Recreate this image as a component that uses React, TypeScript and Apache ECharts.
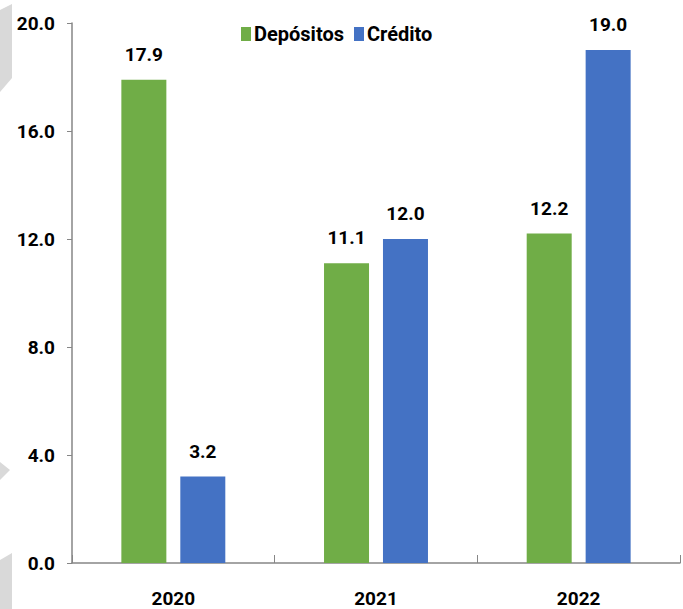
import React, { useEffect, useRef } from "react";
import * as echarts from "echarts";

const categories = ["2020", "2021", "2022"];
const depositos = [17.9, 11.1, 12.2];
const credito = [3.2, 12.0, 19.0];
const yTicks = [0, 4, 8, 12, 16, 20];

const FONT = "Roboto, 'DejaVu Sans Condensed', sans-serif";

export default function App() {
  const ref = useRef<HTMLDivElement>(null);
  useEffect(() => {
    if (!ref.current) return;
    const chart = echarts.init(ref.current, undefined, { renderer: "svg" });
    const labelStyle = {
      show: true,
      position: "top" as const,
      distance: 16,
      fontFamily: FONT,
      fontWeight: "bold" as const,
      fontSize: 19,
      color: "#000",
      formatter: (p: any) => Number(p.value).toFixed(1),
    };
    chart.setOption({
      animation: false,
      backgroundColor: "#fff",
      graphic: [
        { type: "polygon", shape: { points: [[0, 10], [12, 4], [12, 78], [0, 92]] }, style: { fill: "#d9d9d9" } },
        { type: "polygon", shape: { points: [[0, 462], [10, 470], [0, 480]] }, style: { fill: "#d9d9d9" } },
        { type: "polygon", shape: { points: [[0, 560], [12, 553], [12, 609], [0, 609]] }, style: { fill: "#d9d9d9" } },
      ],
      legend: {
        top: 19,
        left: 236,
        itemWidth: 10,
        itemHeight: 14,
        itemGap: 10,
        icon: "rect",
        textStyle: { fontFamily: FONT, fontWeight: "bold", fontSize: 20, color: "#000", padding: [0, 0, 0, -2] },
        data: ["Depósitos", "Crédito"],
      },
      grid: { left: 72, right: 3, top: 23, bottom: 46, containLabel: false },
      xAxis: {
        type: "category",
        data: categories,
        axisLine: { lineStyle: { color: "#868686", width: 1.5 } },
        axisTick: { show: true, inside: true, length: 8, lineStyle: { color: "#868686" } },
        axisLabel: { margin: 25, lineHeight: 20, fontFamily: FONT, fontWeight: "bold", fontSize: 19, color: "#000" },
      },
      yAxis: {
        type: "value",
        min: yTicks[0],
        max: yTicks[yTicks.length - 1],
        interval: 4,
        splitLine: { show: false },
        axisLine: { show: true, lineStyle: { color: "#868686", width: 1.5 } },
        axisTick: { show: true, length: 5, lineStyle: { color: "#868686" } },
        axisLabel: {
          margin: 17,
          fontFamily: FONT,
          fontWeight: "bold",
          fontSize: 19,
          color: "#000",
          formatter: (v: number) => v.toFixed(1),
        },
      },
      series: [
        {
          name: "Depósitos",
          type: "bar",
          data: depositos,
          barWidth: 45,
          barGap: "31%",
          itemStyle: { color: "#70ad47" },
          label: labelStyle,
        },
        {
          name: "Crédito",
          type: "bar",
          data: credito,
          barWidth: 45,
          itemStyle: { color: "#4472c4" },
          label: labelStyle,
        },
      ],
    });
    return () => chart.dispose();
  }, []);
  return <div ref={ref} style={{ width: 683, height: 609, position: "absolute", left: 0, top: 0 }} />;
}
